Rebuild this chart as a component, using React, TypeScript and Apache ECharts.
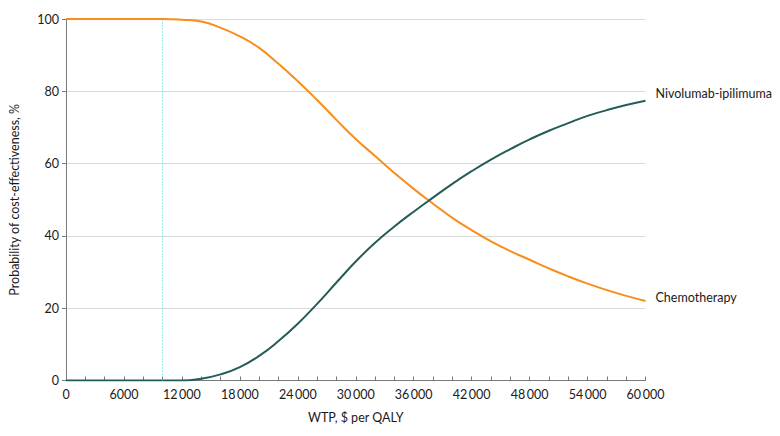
import React, { useEffect, useRef } from "react";
import * as echarts from "echarts";

const wtp = [0, 2000, 4000, 6000, 8000, 10000, 12000, 14000, 16000, 18000, 20000, 22000, 24000, 26000, 28000, 30000, 32000, 34000, 36000, 38000, 40000, 42000, 44000, 46000, 48000, 50000, 52000, 54000, 56000, 58000, 60000];
const chemotherapy = [100, 100, 100, 100, 100, 100, 99.8, 99.3, 97.6, 95.2, 92, 87.6, 82.8, 77.6, 72.1, 66.8, 62.1, 57.4, 53, 48.9, 45, 41.6, 38.5, 35.8, 33.4, 31.0, 28.8, 26.8, 25, 23.4, 22];
const nivoIpi = [0, 0, 0, 0, 0, 0, 0, 0.5, 1.7, 3.7, 6.8, 10.9, 15.7, 21.2, 27.1, 32.9, 38.1, 42.6, 46.7, 50.6, 54.4, 57.9, 61.1, 64, 66.7, 69.1, 71.2, 73.2, 74.8, 76.2, 77.4];
const threshold = 10000;
const xTicks = { min: 0, max: 60000, interval: 6000 };
const yTicks = { min: 0, max: 100, interval: 20 };

const FONT = "Lato";
const FS = 12.5;
const TEXT = "#1a1a1a";

function fmt(v: number) {
  if (v >= 10000) {
    const s = String(v);
    return s.slice(0, s.length - 3) + "\u2009" + s.slice(s.length - 3);
  }
  return String(v);
}

export default function App() {
  const ref = useRef<HTMLDivElement>(null);
  useEffect(() => {
    if (!ref.current) return;
    const chart = echarts.init(ref.current, undefined, { renderer: "svg" });
    chart.setOption({
      animation: false,
      textStyle: { fontFamily: FONT, color: TEXT },
      grid: { left: 60.5, right: 134.5, top: 19, bottom: 55.5 },
      xAxis: {
        type: "value",
        min: xTicks.min,
        max: xTicks.max,
        interval: xTicks.interval,
        name: "WTP, $ per QALY",
        nameLocation: "middle",
        nameGap: 30,
        nameTextStyle: { fontFamily: FONT, fontSize: FS, color: TEXT },
        axisLine: { lineStyle: { color: "#7a7a7a", width: 1 } },
        axisTick: { show: true, inside: true, length: 4, lineStyle: { color: "#7a7a7a" } },
        minorTick: { show: true, splitNumber: 3, length: 4, lineStyle: { color: "#7a7a7a" } },
        axisLabel: { fontFamily: FONT, fontSize: FS, color: TEXT, margin: 7, formatter: (v: number) => fmt(v) },
        splitLine: { show: false },
      },
      yAxis: {
        type: "value",
        min: yTicks.min,
        max: yTicks.max,
        interval: yTicks.interval,
        name: "Probability of cost-effectiveness, %",
        nameLocation: "middle",
        nameGap: 45,
        nameTextStyle: { fontFamily: FONT, fontSize: FS, color: TEXT },
        axisLine: { show: true, lineStyle: { color: "#7a7a7a", width: 1 } },
        axisTick: { show: true, inside: false, length: 4, lineStyle: { color: "#7a7a7a" } },
        axisLabel: { fontFamily: FONT, fontSize: FS, color: TEXT, margin: 7 },
        splitLine: { show: true, lineStyle: { color: "#d9d9d9", width: 1 } },
      },
      series: [
        {
          name: "Chemotherapy",
          type: "line",
          data: wtp.map((x, i) => [x, chemotherapy[i]]),
          showSymbol: false,
          smooth: 0.5,
          lineStyle: { color: "#F98D1C", width: 2 },
          itemStyle: { color: "#F98D1C" },
          endLabel: { show: true, formatter: "{a}", offset: [2, -3], fontFamily: FONT, fontSize: FS, color: TEXT },
          markLine: {
            silent: true,
            symbol: "none",
            label: { show: false },
            lineStyle: { color: "#3ad6e8", type: [1, 2], width: 1 },
            data: [{ xAxis: threshold }],
          },
          z: 3,
        },
        {
          name: "Nivolumab-ipilimumab",
          type: "line",
          data: wtp.map((x, i) => [x, nivoIpi[i]]),
          showSymbol: false,
          smooth: 0.5,
          lineStyle: { color: "#245C58", width: 2 },
          itemStyle: { color: "#245C58" },
          endLabel: { show: true, formatter: "{a}", offset: [2, -7], fontFamily: FONT, fontSize: FS, color: TEXT },
          z: 4,
        },
      ],
    });
    return () => chart.dispose();
  }, []);
  return <div ref={ref} style={{ width: 780, height: 436, margin: -8 }} />;
}
